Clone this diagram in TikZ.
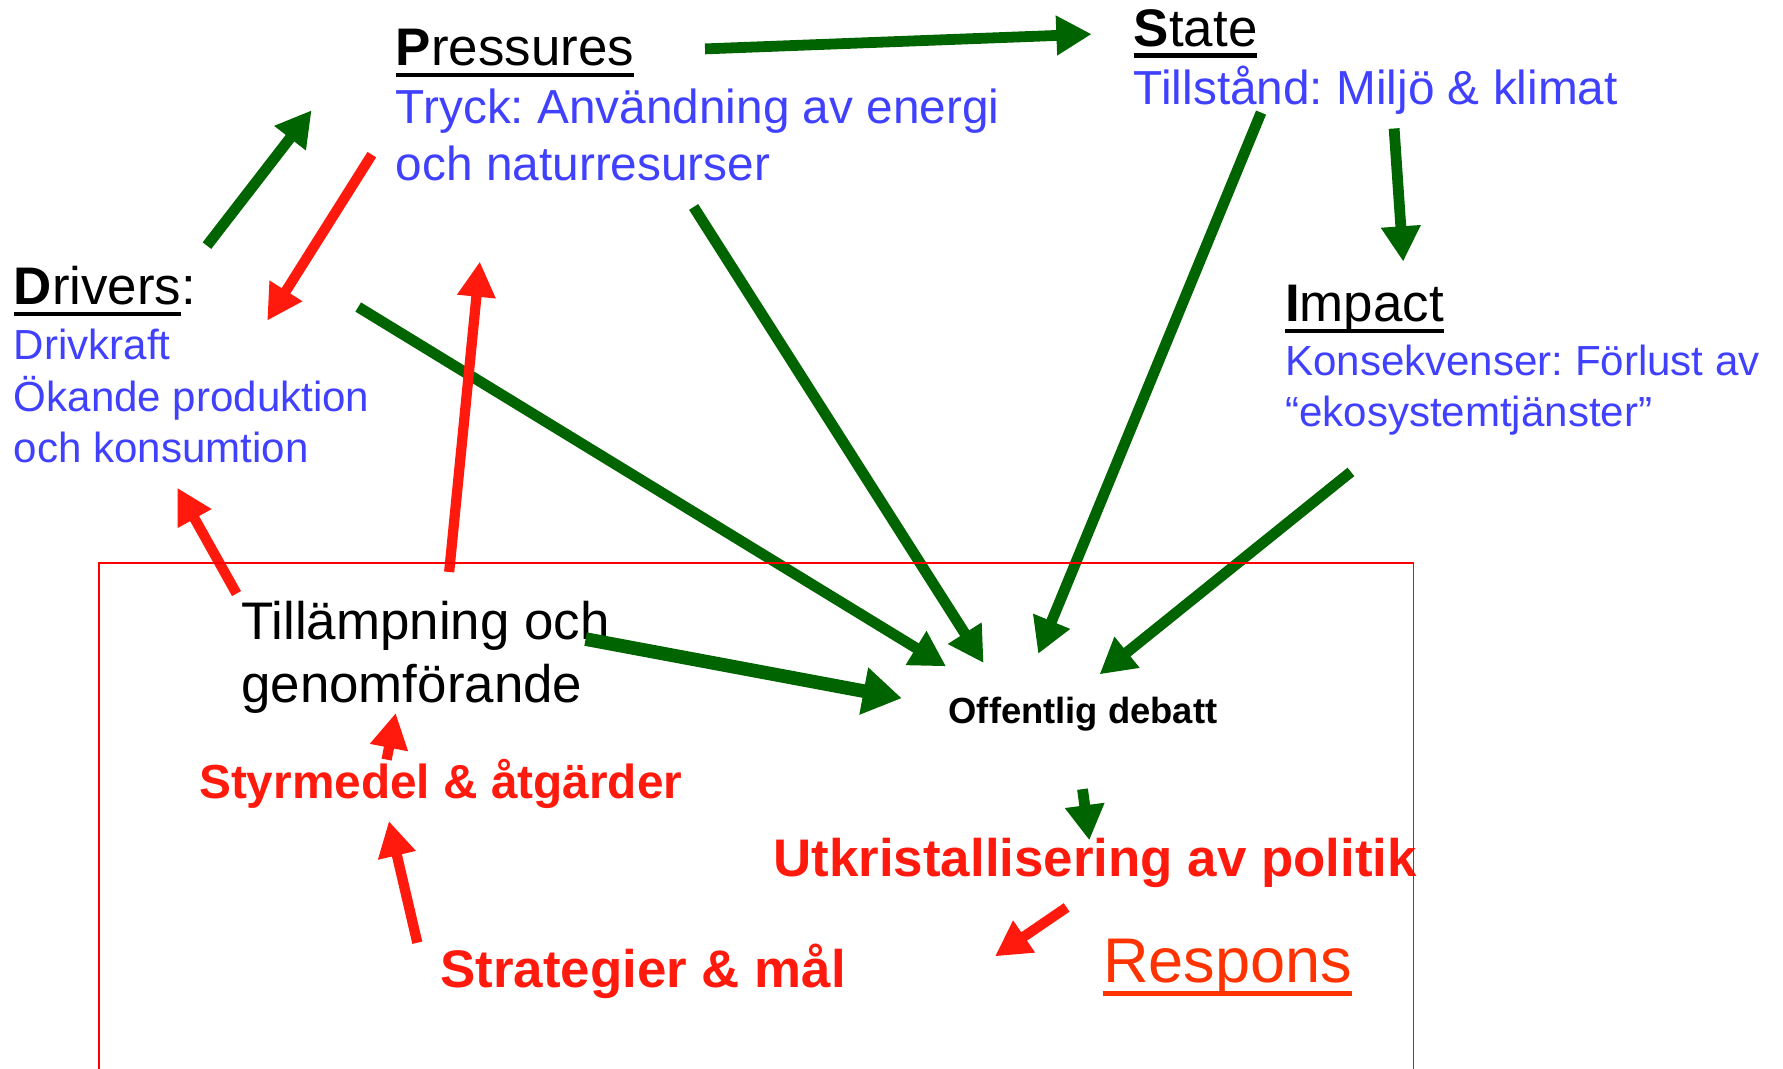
\documentclass[tikz,border=0pt]{standalone}
\usepackage{fontspec}
\setmainfont{Liberation Sans}
\usepackage{xcolor}
\usepackage{tikz}
\usetikzlibrary{arrows.meta, positioning, calc}

\definecolor{descblue}{RGB}{64,64,255}
\definecolor{arrowgreen}{RGB}{0,100,0}
\definecolor{arrowred}{RGB}{255,26,13}
\definecolor{responsorange}{RGB}{255,51,0}

\frenchspacing
\newsavebox\ulbox
\newcommand\ulin[1]{\sbox\ulbox{#1}\rlap{\rule[-0.21em]{\wd\ulbox}{0.08em}}\usebox\ulbox}
\newcommand\lines[1]{\vtop{\halign{##\hfil\cr#1\crcr}}}

\begin{document}
\begin{tikzpicture}[
   x=1bp, y=-1bp,
   every node/.style = {inner sep=0pt, anchor=base west},
   heading/.style = {font=\fontsize{46.5bp}{56bp}\selectfont},
   desc/.style = {text=descblue, font=\fontsize{37bp}{45.5bp}\selectfont},
   descbig/.style = {text=descblue, font=\fontsize{42bp}{50bp}\selectfont},
   resp/.style = {text=arrowred, font=\bfseries\fontsize{46.5bp}{52bp}\selectfont},
   garrow/.style = {draw=arrowgreen, line width=9.5bp, -{Triangle[length=31bp,width=33bp]}},
   rarrow/.style = {draw=arrowred, line width=9bp, -{Triangle[length=31bp,width=32bp]}},
   frame/.style = {draw=red, line width=1.5bp}
   ]
  \useasboundingbox (0,0) rectangle (1568,940);

  % Pressures
  \node[heading] (pres) at (348,58) {\ulin{\textbf{P}ressures}};
  \node[descbig] (presd) at (348,109) {\lines{Tryck: Användning av energi\cr och naturresurser}};

  % State
  \node[heading] (state) at (997,41) {\ulin{\textbf{S}tate}};
  \node[descbig] (stated) at (997,92) {Tillstånd: Miljö \& klimat};

  % Impact
  \node[heading] (impact) at (1130,283) {\ulin{\textbf{I}mpact}};
  \node[desc] (impactd) at (1130,330) {\lines{Konsekvenser: Förlust av\cr “ekosystemtjänster”}};

  % Drivers
  \node[heading] (drivers) at (12,268) {\ulin{\textbf{D}rivers}:};
  \node[desc] (driversd) at (12,316) {\lines{Drivkraft\cr Ökande produktion\cr och konsumtion}};

  % Respons part
  \node[heading] (apply) at (212,562) {\lines{Tillämpning och\cr genomförande}};
  \node[font=\bfseries\fontsize{32bp}{38bp}\selectfont] (debate) at (834,636) {Offentlig debatt};
  \node[resp, font=\bfseries\fontsize{42bp}{50bp}\selectfont] (instr) at (175,702) {Styrmedel \& åtgärder};
  \node[resp] (policy) at (680,771) {Utkristallisering av politik};
  \node[resp] (strat) at (387,868) {Strategier \& mål};
  \node[text=responsorange, font=\fontsize{55.5bp}{60bp}\selectfont] (respons) at (970,864) {\ulin{Respons}};

  % Green arrows
  \draw[garrow] ($(pres.base west)+(272,-15)$) -- ($(state.base west)+(-37,-11)$);
  \draw[garrow] ($(drivers.base west)+(170,-52)$) -- ($(pres.base west)+(-74,39)$);
  \draw[garrow] ($(state.base west)+(229,72)$) -- ($(impact.base west)+(104,-53)$);
  \draw[garrow] ($(drivers.base west)+(303,2)$) -- ($(debate.base west)+(-2,-50)$);
  \draw[garrow] ($(pres.base west)+(262,124)$) -- ($(debate.base west)+(31,-53)$);
  \draw[garrow] ($(state.base west)+(112,58)$) -- ($(debate.base west)+(79,-61)$);
  \draw[garrow] ($(impact.base west)+(58,132)$) -- ($(debate.base west)+(133,-43)$);
  \draw[garrow, line width=12bp, -{Triangle[length=34bp,width=40bp]}] ($(apply.base west)+(303,0)$) -- ($(debate.base west)+(-41,-22)$);
  \draw[garrow] ($(debate.base west)+(118,58)$) -- ($(policy.base west)+(278,-32)$);

  % Red arrows
  \draw[rarrow] ($(pres.base west)+(-21,78)$) -- ($(drivers.base west)+(223,14)$);
  \draw[rarrow] ($(apply.base west)+(-4,-40)$) -- ($(drivers.base west)+(144,161)$);
  \draw[rarrow] ($(apply.base west)+(183,-59)$) -- ($(pres.base west)+(74,172)$);
  \draw[rarrow] ($(instr.base west)+(165,-34)$) -- ($(apply.base west)+(136,65)$);
  \draw[rarrow] ($(strat.base west)+(-20,-39)$) -- ($(instr.base west)+(167,20)$);
  \draw[rarrow] ($(policy.base west)+(258,27)$) -- ($(strat.base west)+(488,-27)$);

  % Frame
  \draw[frame] (87,960) |- (1243,495) -- (1243,960);
\end{tikzpicture}
\end{document}
